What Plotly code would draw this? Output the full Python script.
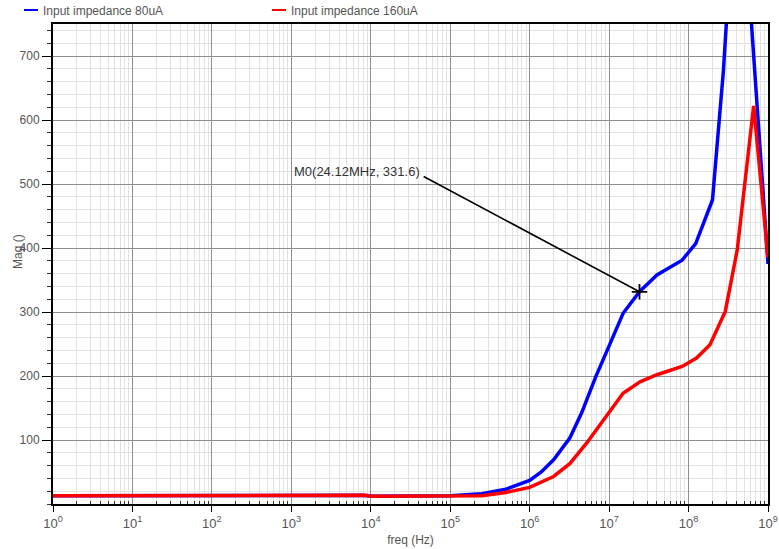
import plotly.graph_objects as go

# Input impedance magnitude vs frequency for two bias currents
freq_80 = [1, 10, 100, 1e3, 8e3, 1e4, 3e4, 1e5, 2.5e5, 5e5, 1e6, 1.4e6, 2e6,
           3.2e6, 4.5e6, 6.8e6, 1e7, 1.5e7, 24.12e6, 4e7, 8.3e7, 1.23e8,
           2e8, 2.75e8, 3.55e8, 4.37e8, 5.25e8, 6.6e8, 1e9]
mag_80 = [13, 13, 13, 13, 13.5, 12, 12, 13, 16, 23, 37, 50, 69,
          103, 142, 199, 247, 298, 331.6, 358, 381, 407,
          475, 678, 900, 1060, 880, 694, 375]

freq_160 = [1, 10, 100, 1e3, 8.9e3, 1e4, 1e5, 2.5e5, 5e5, 1e6, 2e6, 3.2e6,
            5.2e6, 1e7, 1.5e7, 2.45e7, 4e7, 8.3e7, 1.26e8, 1.86e8, 2.9e8,
            4.1e8, 4.5e8, 6.6e8, 1e9]
mag_160 = [13, 13, 13, 13, 13.5, 12, 12.5, 13, 18, 26, 43, 63,
           95, 143, 173, 191, 202, 215, 228, 249, 301,
           397, 440, 622, 385]

marker_freq = [24.12e6]
marker_mag = [331.6]

x_exponents = list(range(0, 10))
y_ticks = [100, 200, 300, 400, 500, 600, 700]

FONT = "Liberation Sans, Arial, sans-serif"
BLUE = "#0000ff"
RED = "#ff0000"
LABEL_GRAY = "#555555"

fig = go.Figure()
fig.add_trace(go.Scatter(x=freq_80, y=mag_80, mode="lines",
                         line=dict(color=BLUE, width=3.5),
                         name="Input impedance 80uA", showlegend=False))
fig.add_trace(go.Scatter(x=freq_160, y=mag_160, mode="lines",
                         line=dict(color=RED, width=3.5),
                         name="Input impedance 160uA", showlegend=False))
fig.add_trace(go.Scatter(x=marker_freq, y=marker_mag, mode="markers",
                         marker=dict(symbol="cross-thin", size=11,
                                     line=dict(color="black", width=1.8)),
                         showlegend=False, hoverinfo="skip"))

minor_x = [k * 10 ** e for e in range(0, 9) for k in range(2, 10)]

fig.update_xaxes(
    type="log", range=[0, 9], automargin=False,
    tickmode="array",
    tickvals=[10 ** e for e in x_exponents],
    ticktext=[f"10<sup>{e}</sup>" for e in x_exponents],
    ticks="outside", ticklen=6, tickcolor="black", tickwidth=1,
    tickfont=dict(family=FONT, size=13, color=LABEL_GRAY),
    showgrid=True, gridcolor="#8f8f8f", gridwidth=1.3,
    showline=True, linecolor="black", linewidth=2, mirror=True,
    minor=dict(tickmode="array", tickvals=minor_x, ticks="inside",
               ticklen=3, tickcolor="#333333", showgrid=True,
               gridcolor="#e2e2e2", gridwidth=1.3),
    title=dict(text="freq (Hz)", font=dict(family=FONT, size=12, color=LABEL_GRAY),
               standoff=6),
    zeroline=False,
)
fig.update_yaxes(
    range=[0, 750], automargin=False,
    tickmode="array", tickvals=y_ticks,
    ticks="outside", ticklen=9, tickcolor="black", tickwidth=1,
    tickfont=dict(family=FONT, size=12, color=LABEL_GRAY),
    showgrid=True, gridcolor="#8f8f8f", gridwidth=1.3,
    showline=True, linecolor="black", linewidth=2, mirror=True,
    minor=dict(dtick=20, tick0=0, ticks="outside", ticklen=4,
               tickcolor="#333333", showgrid=True,
               gridcolor="#e2e2e2", gridwidth=1.3),
    zeroline=False,
)

# Y axis title, placed by hand beside the tick labels
fig.add_annotation(xref="paper", yref="paper", x=(18 - 53) / 715, y=(504 - 252) / 480,
                   text="Mag ()", textangle=-90, showarrow=False,
                   xanchor="center", yanchor="middle",
                   font=dict(family=FONT, size=12, color=LABEL_GRAY))

# Marker label with leader line
fig.add_annotation(x=4.647, y=519, xref="x", yref="y", text="M0(24.12MHz, 331.6)",
                   showarrow=False, xanchor="right", yanchor="middle",
                   font=dict(family=FONT, size=13, color="#333333"))
fig.add_annotation(x=7.3824, y=331.6, xref="x", yref="y", text="",
                   showarrow=True, arrowhead=0, arrowwidth=1.6, arrowcolor="black",
                   ax=4.647, ay=513, axref="x", ayref="y", standoff=0)

# Legend row along the top edge
legend_items = [("Input impedance 80uA", BLUE, 24), ("Input impedance 160uA", RED, 272)]
for label, color, px in legend_items:
    fig.add_shape(type="line", xref="paper", yref="paper",
                  x0=(px - 53) / 715, x1=(px + 14 - 53) / 715,
                  y0=(504 - 10) / 480, y1=(504 - 10) / 480,
                  line=dict(color=color, width=2))
    fig.add_annotation(xref="paper", yref="paper", x=(px + 17 - 53) / 715,
                       y=(504 - 11) / 480, text=label, showarrow=False,
                       xanchor="left", yanchor="middle",
                       font=dict(family=FONT, size=12, color=LABEL_GRAY))

fig.update_layout(
    width=779, height=549,
    margin=dict(l=53, r=11, t=24, b=45),
    paper_bgcolor="white", plot_bgcolor="white",
    font=dict(family=FONT),
)

fig.write_html("out.html")
